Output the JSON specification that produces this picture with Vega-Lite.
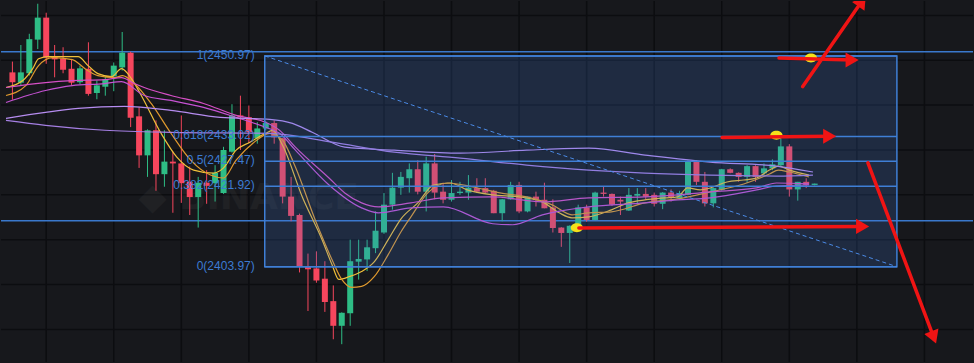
{
  "$schema": "https://vega.github.io/schema/vega-lite/v6.json",
  "width": 974,
  "height": 363,
  "autosize": {"type": "fit", "contains": "padding"},
  "padding": 0,
  "background": "#17181c",
  "config": {"view": {"stroke": null}},
  "datasets": {
    "gx": [{"t": 0}, {"t": 8}, {"t": 16}, {"t": 24}, {"t": 32}, {"t": 40}, {"t": 48}, {"t": 56}, {"t": 64}, {"t": 72}, {"t": 80}, {"t": 88}, {"t": 96}, {"t": 104}],
    "gy": [{"p": 2390}, {"p": 2400}, {"p": 2410}, {"p": 2420}, {"p": 2430}, {"p": 2440}, {"p": 2450}, {"p": 2460}],
    "hl": [{"p": 2451.9}, {"p": 2414.2}],
    "candles": [
      {"t": -4, "o": 2447.3, "h": 2449.7, "l": 2441.2, "c": 2445.1},
      {"t": -3, "o": 2445.0, "h": 2453.4, "l": 2444.4, "c": 2447.3},
      {"t": -2, "o": 2447.1, "h": 2455.9, "l": 2446.6, "c": 2454.7},
      {"t": -1, "o": 2454.6, "h": 2462.6, "l": 2452.5, "c": 2459.5},
      {"t": 0, "o": 2459.5, "h": 2460.6, "l": 2449.2, "c": 2450.6},
      {"t": 1, "o": 2450.8, "h": 2453.4, "l": 2446.2, "c": 2450.2},
      {"t": 2, "o": 2450.4, "h": 2452.9, "l": 2447.1, "c": 2447.9},
      {"t": 3, "o": 2448.1, "h": 2450.3, "l": 2444.5, "c": 2445.0},
      {"t": 4, "o": 2445.1, "h": 2448.8, "l": 2444.7, "c": 2448.2},
      {"t": 5, "o": 2448.1, "h": 2454.0, "l": 2442.1, "c": 2442.5},
      {"t": 6, "o": 2442.7, "h": 2445.5, "l": 2441.3, "c": 2444.4},
      {"t": 7, "o": 2444.1, "h": 2446.4, "l": 2442.1, "c": 2445.8},
      {"t": 8, "o": 2446.4, "h": 2449.5, "l": 2443.1, "c": 2448.8},
      {"t": 9, "o": 2448.4, "h": 2456.3, "l": 2447.7, "c": 2451.7},
      {"t": 10, "o": 2451.7, "h": 2451.9, "l": 2435.1, "c": 2437.2},
      {"t": 11, "o": 2437.5, "h": 2439.5, "l": 2426.0, "c": 2428.8},
      {"t": 12, "o": 2428.8, "h": 2434.6, "l": 2424.0, "c": 2434.4},
      {"t": 13, "o": 2434.4, "h": 2436.6, "l": 2420.9, "c": 2424.6},
      {"t": 14, "o": 2424.6, "h": 2434.4, "l": 2421.8, "c": 2427.4},
      {"t": 15, "o": 2427.4, "h": 2429.6, "l": 2416.0, "c": 2427.0},
      {"t": 16, "o": 2427.0, "h": 2437.7, "l": 2418.2, "c": 2422.6},
      {"t": 17, "o": 2422.9, "h": 2426.3, "l": 2415.5, "c": 2419.5},
      {"t": 18, "o": 2419.5, "h": 2424.0, "l": 2412.7, "c": 2422.7},
      {"t": 19, "o": 2422.7, "h": 2425.5, "l": 2418.0, "c": 2422.0},
      {"t": 20, "o": 2422.6, "h": 2426.6, "l": 2418.5, "c": 2424.9},
      {"t": 21, "o": 2420.4, "h": 2430.7, "l": 2420.2, "c": 2430.0},
      {"t": 22, "o": 2429.6, "h": 2440.2, "l": 2429.4, "c": 2437.7},
      {"t": 23, "o": 2437.7, "h": 2442.1, "l": 2430.0, "c": 2437.3},
      {"t": 24, "o": 2437.3, "h": 2439.9, "l": 2431.5, "c": 2434.0},
      {"t": 25, "o": 2432.6, "h": 2436.2, "l": 2431.4, "c": 2434.8},
      {"t": 26, "o": 2434.8, "h": 2436.4, "l": 2434.4, "c": 2436.0},
      {"t": 27, "o": 2436.0, "h": 2436.6, "l": 2431.4, "c": 2432.8},
      {"t": 28, "o": 2432.6, "h": 2432.7, "l": 2418.1, "c": 2419.6},
      {"t": 29, "o": 2419.6, "h": 2424.0, "l": 2414.1, "c": 2415.3},
      {"t": 30, "o": 2415.5, "h": 2415.8, "l": 2402.7, "c": 2404.1},
      {"t": 31, "o": 2404.0, "h": 2406.9, "l": 2394.1, "c": 2403.4},
      {"t": 32, "o": 2403.6, "h": 2407.4, "l": 2400.4, "c": 2400.9},
      {"t": 33, "o": 2401.3, "h": 2405.2, "l": 2393.9, "c": 2396.1},
      {"t": 34, "o": 2396.3, "h": 2399.8, "l": 2387.8, "c": 2390.8},
      {"t": 35, "o": 2390.8, "h": 2393.8, "l": 2386.7, "c": 2393.7},
      {"t": 36, "o": 2393.6, "h": 2410.0, "l": 2390.8, "c": 2405.2},
      {"t": 37, "o": 2405.1, "h": 2410.0, "l": 2401.1, "c": 2405.7},
      {"t": 38, "o": 2405.6, "h": 2410.0, "l": 2403.0, "c": 2408.3},
      {"t": 39, "o": 2408.1, "h": 2416.3, "l": 2407.0, "c": 2412.0},
      {"t": 40, "o": 2411.6, "h": 2420.4, "l": 2411.3, "c": 2417.8},
      {"t": 41, "o": 2417.8, "h": 2424.9, "l": 2416.7, "c": 2421.6},
      {"t": 42, "o": 2421.6, "h": 2425.1, "l": 2420.0, "c": 2424.0},
      {"t": 43, "o": 2423.7, "h": 2427.0, "l": 2420.5, "c": 2425.7},
      {"t": 44, "o": 2425.7, "h": 2427.7, "l": 2420.1, "c": 2420.7},
      {"t": 45, "o": 2420.7, "h": 2428.5, "l": 2416.3, "c": 2427.0},
      {"t": 46, "o": 2427.0, "h": 2429.1, "l": 2419.0, "c": 2420.5},
      {"t": 47, "o": 2420.7, "h": 2422.7, "l": 2418.1, "c": 2418.9},
      {"t": 48, "o": 2418.9, "h": 2423.3, "l": 2418.5, "c": 2420.4},
      {"t": 49, "o": 2420.4, "h": 2422.9, "l": 2420.0, "c": 2420.7},
      {"t": 50, "o": 2420.5, "h": 2424.4, "l": 2418.9, "c": 2421.6},
      {"t": 51, "o": 2421.5, "h": 2423.7, "l": 2420.4, "c": 2420.7},
      {"t": 52, "o": 2421.5, "h": 2423.7, "l": 2420.4, "c": 2420.5},
      {"t": 53, "o": 2420.9, "h": 2421.1, "l": 2415.9, "c": 2415.9},
      {"t": 54, "o": 2415.9, "h": 2419.1, "l": 2414.1, "c": 2419.0},
      {"t": 55, "o": 2419.0, "h": 2422.9, "l": 2418.9, "c": 2422.2},
      {"t": 56, "o": 2422.2, "h": 2422.9, "l": 2415.9, "c": 2416.3},
      {"t": 57, "o": 2416.3, "h": 2419.6, "l": 2416.1, "c": 2419.6},
      {"t": 58, "o": 2419.6, "h": 2420.7, "l": 2417.4, "c": 2418.9},
      {"t": 59, "o": 2418.9, "h": 2422.7, "l": 2417.0, "c": 2417.0},
      {"t": 60, "o": 2417.2, "h": 2419.0, "l": 2411.6, "c": 2412.6},
      {"t": 61, "o": 2412.7, "h": 2412.8, "l": 2408.4, "c": 2411.5},
      {"t": 62, "o": 2411.5, "h": 2413.2, "l": 2404.8, "c": 2413.1},
      {"t": 63, "o": 2412.2, "h": 2417.8, "l": 2412.0, "c": 2417.2},
      {"t": 64, "o": 2417.2, "h": 2417.8, "l": 2414.0, "c": 2414.4},
      {"t": 65, "o": 2414.4, "h": 2420.7, "l": 2414.3, "c": 2420.5},
      {"t": 66, "o": 2420.5, "h": 2421.8, "l": 2419.6, "c": 2420.2},
      {"t": 67, "o": 2420.2, "h": 2420.3, "l": 2417.5, "c": 2417.8},
      {"t": 68, "o": 2418.9, "h": 2419.6, "l": 2415.5, "c": 2418.5},
      {"t": 69, "o": 2416.5, "h": 2421.5, "l": 2416.4, "c": 2420.0},
      {"t": 70, "o": 2419.8, "h": 2421.5, "l": 2417.8, "c": 2420.2},
      {"t": 71, "o": 2420.2, "h": 2421.5, "l": 2418.9, "c": 2419.6},
      {"t": 72, "o": 2420.0, "h": 2420.5, "l": 2417.4, "c": 2418.0},
      {"t": 73, "o": 2418.0, "h": 2420.6, "l": 2416.8, "c": 2420.5},
      {"t": 74, "o": 2420.5, "h": 2421.2, "l": 2418.5, "c": 2419.5},
      {"t": 75, "o": 2419.2, "h": 2420.9, "l": 2418.9, "c": 2420.4},
      {"t": 76, "o": 2420.0, "h": 2427.7, "l": 2419.9, "c": 2427.4},
      {"t": 77, "o": 2427.4, "h": 2427.7, "l": 2422.2, "c": 2422.9},
      {"t": 78, "o": 2422.9, "h": 2425.1, "l": 2417.4, "c": 2418.1},
      {"t": 79, "o": 2418.1, "h": 2421.6, "l": 2417.2, "c": 2421.5},
      {"t": 80, "o": 2421.1, "h": 2425.8, "l": 2420.9, "c": 2425.7},
      {"t": 81, "o": 2425.7, "h": 2425.9, "l": 2424.8, "c": 2424.9},
      {"t": 82, "o": 2424.9, "h": 2425.0, "l": 2422.9, "c": 2424.0},
      {"t": 83, "o": 2424.0, "h": 2426.6, "l": 2422.7, "c": 2426.4},
      {"t": 84, "o": 2426.4, "h": 2426.6, "l": 2422.9, "c": 2424.0},
      {"t": 85, "o": 2424.8, "h": 2427.0, "l": 2424.4, "c": 2425.9},
      {"t": 86, "o": 2425.9, "h": 2427.9, "l": 2425.5, "c": 2426.8},
      {"t": 87, "o": 2426.6, "h": 2432.9, "l": 2426.3, "c": 2430.8},
      {"t": 88, "o": 2430.8, "h": 2431.3, "l": 2419.6, "c": 2421.2},
      {"t": 89, "o": 2421.2, "h": 2422.9, "l": 2418.7, "c": 2422.9},
      {"t": 90, "o": 2422.9, "h": 2423.7, "l": 2421.5, "c": 2422.2},
      {"t": 91, "o": 2422.2, "h": 2422.5, "l": 2422.1, "c": 2422.5}
    ],
    "ma": [
      {"s": "m1", "t": -4.76, "p": 2443.92}, {"s": "m1", "t": -2.77, "p": 2445.47}, {"s": "m1", "t": -1.6, "p": 2448.13}, {"s": "m1", "t": -0.9, "p": 2450.35}, {"s": "m1", "t": 0.27, "p": 2450.79}, {"s": "m1", "t": 3.78, "p": 2450.79}, {"s": "m1", "t": 4.96, "p": 2448.8}, {"s": "m1", "t": 6.12, "p": 2447.02}, {"s": "m1", "t": 7.75, "p": 2446.36}, {"s": "m1", "t": 8.92, "p": 2448.13}, {"s": "m1", "t": 10.09, "p": 2445.92}, {"s": "m1", "t": 11.26, "p": 2442.15}, {"s": "m1", "t": 13.6, "p": 2433.72}, {"s": "m1", "t": 15.47, "p": 2428.4}, {"s": "m1", "t": 17.46, "p": 2425.52}, {"s": "m1", "t": 19.8, "p": 2424.85}, {"s": "m1", "t": 20.97, "p": 2425.96}, {"s": "m1", "t": 22.49, "p": 2429.95}, {"s": "m1", "t": 24.13, "p": 2431.73}, {"s": "m1", "t": 25.99, "p": 2433.72}, {"s": "m1", "t": 26.81, "p": 2434.39}, {"s": "m1", "t": 27.99, "p": 2431.06}, {"s": "m1", "t": 30.33, "p": 2419.53}, {"s": "m1", "t": 32.67, "p": 2410.0}, {"s": "m1", "t": 33.84, "p": 2404.46}, {"s": "m1", "t": 34.65, "p": 2401.13}, {"s": "m1", "t": 35.94, "p": 2401.8}, {"s": "m1", "t": 37.35, "p": 2402.91}, {"s": "m1", "t": 38.87, "p": 2405.12}, {"s": "m1", "t": 40.5, "p": 2410.0}, {"s": "m1", "t": 42.02, "p": 2414.66}, {"s": "m1", "t": 44.01, "p": 2418.2}, {"s": "m1", "t": 45.88, "p": 2422.19}, {"s": "m1", "t": 47.87, "p": 2422.64}, {"s": "m1", "t": 49.86, "p": 2421.09}, {"s": "m1", "t": 52.9, "p": 2419.98}, {"s": "m1", "t": 56.06, "p": 2419.53}, {"s": "m1", "t": 58.75, "p": 2418.42}, {"s": "m1", "t": 60.74, "p": 2415.99}, {"s": "m1", "t": 62.26, "p": 2414.88}, {"s": "m1", "t": 64.25, "p": 2415.1}, {"s": "m1", "t": 66.94, "p": 2416.65}, {"s": "m1", "t": 68.92, "p": 2418.2}, {"s": "m1", "t": 70.91, "p": 2418.87}, {"s": "m1", "t": 73.25, "p": 2419.31}, {"s": "m1", "t": 74.77, "p": 2419.53}, {"s": "m1", "t": 75.94, "p": 2421.53}, {"s": "m1", "t": 77.46, "p": 2421.09}, {"s": "m1", "t": 78.63, "p": 2421.53}, {"s": "m1", "t": 80.62, "p": 2422.86}, {"s": "m1", "t": 82.61, "p": 2423.3}, {"s": "m1", "t": 84.13, "p": 2423.75}, {"s": "m1", "t": 85.65, "p": 2425.52}, {"s": "m1", "t": 86.7, "p": 2426.41}, {"s": "m1", "t": 87.99, "p": 2425.52}, {"s": "m1", "t": 90.33, "p": 2424.41},
      {"s": "m2", "t": -4.76, "p": 2442.15}, {"s": "m2", "t": -2.42, "p": 2444.36}, {"s": "m2", "t": -0.9, "p": 2448.8}, {"s": "m2", "t": 0.74, "p": 2450.57}, {"s": "m2", "t": 3.08, "p": 2450.13}, {"s": "m2", "t": 4.6, "p": 2448.13}, {"s": "m2", "t": 6.12, "p": 2446.58}, {"s": "m2", "t": 8.11, "p": 2446.14}, {"s": "m2", "t": 9.04, "p": 2446.58}, {"s": "m2", "t": 10.44, "p": 2444.81}, {"s": "m2", "t": 12.43, "p": 2440.37}, {"s": "m2", "t": 14.77, "p": 2433.72}, {"s": "m2", "t": 17.11, "p": 2427.74}, {"s": "m2", "t": 19.45, "p": 2424.41}, {"s": "m2", "t": 20.97, "p": 2423.75}, {"s": "m2", "t": 22.49, "p": 2427.74}, {"s": "m2", "t": 24.48, "p": 2431.5}, {"s": "m2", "t": 26.47, "p": 2433.72}, {"s": "m2", "t": 27.99, "p": 2432.17}, {"s": "m2", "t": 29.51, "p": 2426.18}, {"s": "m2", "t": 31.85, "p": 2414.43}, {"s": "m2", "t": 33.84, "p": 2405.57}, {"s": "m2", "t": 35.0, "p": 2401.13}, {"s": "m2", "t": 36.18, "p": 2399.36}, {"s": "m2", "t": 37.35, "p": 2399.58}, {"s": "m2", "t": 38.87, "p": 2401.8}, {"s": "m2", "t": 40.5, "p": 2406.67}, {"s": "m2", "t": 42.02, "p": 2411.77}, {"s": "m2", "t": 43.19, "p": 2415.1}, {"s": "m2", "t": 45.18, "p": 2420.42}, {"s": "m2", "t": 47.52, "p": 2422.64}, {"s": "m2", "t": 50.56, "p": 2421.75}, {"s": "m2", "t": 53.72, "p": 2420.42}, {"s": "m2", "t": 56.88, "p": 2419.53}, {"s": "m2", "t": 59.92, "p": 2417.76}, {"s": "m2", "t": 62.26, "p": 2415.54}, {"s": "m2", "t": 64.25, "p": 2415.99}, {"s": "m2", "t": 66.94, "p": 2416.21}, {"s": "m2", "t": 70.91, "p": 2418.2}, {"s": "m2", "t": 74.77, "p": 2419.09}, {"s": "m2", "t": 78.63, "p": 2420.64}, {"s": "m2", "t": 82.61, "p": 2422.42}, {"s": "m2", "t": 85.65, "p": 2424.63}, {"s": "m2", "t": 86.7, "p": 2425.52}, {"s": "m2", "t": 87.99, "p": 2425.08}, {"s": "m2", "t": 90.33, "p": 2423.97},
      {"s": "m3", "t": -4.76, "p": 2443.92}, {"s": "m3", "t": -0.08, "p": 2445.03}, {"s": "m3", "t": 3.08, "p": 2445.47}, {"s": "m3", "t": 6.94, "p": 2445.69}, {"s": "m3", "t": 8.92, "p": 2446.14}, {"s": "m3", "t": 10.44, "p": 2444.81}, {"s": "m3", "t": 11.61, "p": 2443.92}, {"s": "m3", "t": 14.77, "p": 2442.15}, {"s": "m3", "t": 18.63, "p": 2440.37}, {"s": "m3", "t": 22.49, "p": 2437.71}, {"s": "m3", "t": 25.99, "p": 2436.16}, {"s": "m3", "t": 27.63, "p": 2434.39}, {"s": "m3", "t": 29.51, "p": 2430.62}, {"s": "m3", "t": 33.49, "p": 2423.75}, {"s": "m3", "t": 35.36, "p": 2420.42}, {"s": "m3", "t": 37.35, "p": 2418.2}, {"s": "m3", "t": 39.33, "p": 2417.32}, {"s": "m3", "t": 43.19, "p": 2418.2}, {"s": "m3", "t": 47.05, "p": 2419.31}, {"s": "m3", "t": 52.9, "p": 2419.53}, {"s": "m3", "t": 58.75, "p": 2418.42}, {"s": "m3", "t": 64.25, "p": 2419.31}, {"s": "m3", "t": 70.91, "p": 2419.53}, {"s": "m3", "t": 74.77, "p": 2419.98}, {"s": "m3", "t": 78.63, "p": 2420.64}, {"s": "m3", "t": 84.13, "p": 2421.53}, {"s": "m3", "t": 86.47, "p": 2422.64}, {"s": "m3", "t": 90.33, "p": 2422.42},
      {"s": "m4", "t": -4.76, "p": 2440.59}, {"s": "m4", "t": -0.08, "p": 2443.26}, {"s": "m4", "t": 3.08, "p": 2444.36}, {"s": "m4", "t": 6.94, "p": 2444.81}, {"s": "m4", "t": 8.92, "p": 2445.25}, {"s": "m4", "t": 11.61, "p": 2442.15}, {"s": "m4", "t": 14.77, "p": 2441.04}, {"s": "m4", "t": 18.63, "p": 2439.49}, {"s": "m4", "t": 22.49, "p": 2437.27}, {"s": "m4", "t": 25.99, "p": 2435.05}, {"s": "m4", "t": 27.63, "p": 2433.72}, {"s": "m4", "t": 29.51, "p": 2429.95}, {"s": "m4", "t": 33.49, "p": 2422.19}, {"s": "m4", "t": 37.35, "p": 2417.09}, {"s": "m4", "t": 39.33, "p": 2415.99}, {"s": "m4", "t": 43.19, "p": 2417.09}, {"s": "m4", "t": 47.05, "p": 2417.32}, {"s": "m4", "t": 52.9, "p": 2413.55}, {"s": "m4", "t": 55.24, "p": 2413.33}, {"s": "m4", "t": 58.75, "p": 2415.54}, {"s": "m4", "t": 64.25, "p": 2417.32}, {"s": "m4", "t": 70.91, "p": 2418.2}, {"s": "m4", "t": 74.77, "p": 2418.87}, {"s": "m4", "t": 78.63, "p": 2419.31}, {"s": "m4", "t": 84.13, "p": 2421.09}, {"s": "m4", "t": 86.47, "p": 2421.97}, {"s": "m4", "t": 90.33, "p": 2422.19},
      {"s": "m5", "t": -4.76, "p": 2437.05}, {"s": "m5", "t": -0.08, "p": 2438.38}, {"s": "m5", "t": 3.78, "p": 2439.26}, {"s": "m5", "t": 9.27, "p": 2439.71}, {"s": "m5", "t": 14.77, "p": 2438.82}, {"s": "m5", "t": 20.62, "p": 2437.27}, {"s": "m5", "t": 26.47, "p": 2436.83}, {"s": "m5", "t": 29.16, "p": 2435.94}, {"s": "m5", "t": 31.5, "p": 2433.94}, {"s": "m5", "t": 35.36, "p": 2430.62}, {"s": "m5", "t": 41.2, "p": 2429.95}, {"s": "m5", "t": 49.04, "p": 2429.29}, {"s": "m5", "t": 56.88, "p": 2429.95}, {"s": "m5", "t": 64.25, "p": 2430.4}, {"s": "m5", "t": 70.91, "p": 2428.84}, {"s": "m5", "t": 78.63, "p": 2427.29}, {"s": "m5", "t": 86.47, "p": 2426.41}, {"s": "m5", "t": 90.8, "p": 2425.08},
      {"s": "m6", "t": -4.76, "p": 2436.6}, {"s": "m6", "t": -0.08, "p": 2435.5}, {"s": "m6", "t": 6.94, "p": 2434.39}, {"s": "m6", "t": 14.77, "p": 2433.94}, {"s": "m6", "t": 26.47, "p": 2433.72}, {"s": "m6", "t": 33.84, "p": 2431.73}, {"s": "m6", "t": 41.2, "p": 2429.51}, {"s": "m6", "t": 49.04, "p": 2428.18}, {"s": "m6", "t": 56.88, "p": 2426.63}, {"s": "m6", "t": 64.25, "p": 2425.52}, {"s": "m6", "t": 70.91, "p": 2424.85}, {"s": "m6", "t": 78.63, "p": 2424.41}, {"s": "m6", "t": 86.47, "p": 2424.19}, {"s": "m6", "t": 90.8, "p": 2424.41}
    ],
    "box": [{"t1": 25.88, "t2": 100.74, "p1": 2450.97, "p2": 2403.97}],
    "fib": [
      {"t1": 25.88, "t2": 100.74, "p": 2450.97, "label": "1(2450.97)"},
      {"t1": 25.88, "t2": 100.74, "p": 2433.02, "label": "0.618(2433.02)"},
      {"t1": 25.88, "t2": 100.74, "p": 2427.47, "label": "0.5(2427.47)"},
      {"t1": 25.88, "t2": 100.74, "p": 2421.92, "label": "0.382(2421.92)"},
      {"t1": 25.88, "t2": 100.74, "p": 2403.97, "label": "0(2403.97)"}
    ],
    "arrows": [
      {"id": "a1", "kind": "h", "t1": 86.78, "p1": 2450.5, "t2": 95.44, "p2": 2450.06},
      {"id": "a2", "kind": "up", "t1": 89.59, "p1": 2444.14, "t2": 96.61, "p2": 2463.21},
      {"id": "a3", "kind": "h", "t1": 80.04, "p1": 2432.77, "t2": 92.78, "p2": 2433.06},
      {"id": "a4", "kind": "h", "t1": 63.08, "p1": 2412.59, "t2": 96.68, "p2": 2412.95},
      {"id": "a5", "kind": "down", "t1": 97.31, "p1": 2427.14, "t2": 105.1, "p2": 2388.21}
    ],
    "dots": [{"t": 90.56, "p": 2450.5}, {"t": 86.47, "p": 2433.28}, {"t": 62.84, "p": 2412.66}],
    "wm": [{"t": 24.0, "p": 2419.3, "label": "◆ BINANCE"}]
  },
  "layer": [
    {
      "data": {"name": "gx"},
      "mark": {"type": "rule", "stroke": "#0c0d10", "strokeWidth": 1.5},
      "encoding": {
        "x": {"field": "t", "type": "quantitative", "scale": {"domain": [-4.76, 109.16], "nice": false, "zero": false}, "axis": null}
      }
    },
    {
      "data": {"name": "gy"},
      "mark": {"type": "rule", "stroke": "#0c0d10", "strokeWidth": 1.5},
      "encoding": {
        "y": {"field": "p", "type": "quantitative", "scale": {"domain": [2382.73, 2463.21], "nice": false, "zero": false}, "axis": null}
      }
    },
    {
      "data": {"name": "wm"},
      "mark": {"type": "text", "align": "center", "baseline": "middle", "font": "DejaVu Sans", "fontWeight": "bold", "fontSize": 36, "fill": "#ffffff", "opacity": 0.035},
      "encoding": {
        "x": {"field": "t", "type": "quantitative", "axis": null},
        "y": {"field": "p", "type": "quantitative", "axis": null},
        "text": {"field": "label"}
      }
    },
    {
      "data": {"name": "hl"},
      "mark": {"type": "rule", "stroke": "#3a78cc", "strokeWidth": 1.5},
      "encoding": {
        "y": {"field": "p", "type": "quantitative", "axis": null}
      }
    },
    {
      "data": {"name": "candles"},
      "mark": {"type": "rule", "strokeWidth": 1, "clip": true},
      "encoding": {
        "x": {"field": "t", "type": "quantitative", "scale": {"domain": [-4.76, 109.16], "nice": false, "zero": false}, "axis": null},
        "y": {"field": "l", "type": "quantitative", "scale": {"domain": [2382.73, 2463.21], "nice": false, "zero": false}, "axis": null},
        "y2": {"field": "h"},
        "color": {"condition": {"test": "datum.c >= datum.o", "value": "#2ebd85"}, "value": "#f6465d"}
      }
    },
    {
      "data": {"name": "candles"},
      "mark": {"type": "bar", "size": 6, "clip": true},
      "encoding": {
        "x": {"field": "t", "type": "quantitative", "axis": null},
        "y": {"field": "o", "type": "quantitative", "axis": null},
        "y2": {"field": "c"},
        "color": {"condition": {"test": "datum.c >= datum.o", "value": "#2ebd85"}, "value": "#f6465d"}
      }
    },
    {
      "data": {"name": "ma"},
      "mark": {"type": "line", "strokeWidth": 1.2, "clip": true, "interpolate": "monotone"},
      "encoding": {
        "x": {"field": "t", "type": "quantitative", "axis": null},
        "y": {"field": "p", "type": "quantitative", "axis": null},
        "color": {"field": "s", "type": "nominal", "legend": null, "scale": {"domain": ["m1", "m2", "m3", "m4", "m5", "m6"], "range": ["#f0c03a", "#e09a2e", "#d64fc6", "#c552d3", "#b68cf0", "#a57fe3"]}}
      }
    },
    {
      "data": {"name": "box"},
      "mark": {"type": "rect", "fill": "#3f7ad8", "fillOpacity": 0.2},
      "encoding": {
        "x": {"field": "t1", "type": "quantitative", "axis": null},
        "x2": {"field": "t2"},
        "y": {"field": "p1", "type": "quantitative", "axis": null},
        "y2": {"field": "p2"}
      }
    },
    {
      "data": {"name": "fib"},
      "mark": {"type": "rule", "stroke": "#3f7fd6", "strokeWidth": 1.5},
      "encoding": {
        "x": {"field": "t1", "type": "quantitative", "axis": null},
        "x2": {"field": "t2"},
        "y": {"field": "p", "type": "quantitative", "axis": null}
      }
    },
    {
      "data": {"name": "box"},
      "mark": {"type": "rect", "fillOpacity": 0, "stroke": "#3f7fd6", "strokeWidth": 1.5},
      "encoding": {
        "x": {"field": "t1", "type": "quantitative", "axis": null},
        "x2": {"field": "t2"},
        "y": {"field": "p1", "type": "quantitative", "axis": null},
        "y2": {"field": "p2"}
      }
    },
    {
      "data": {"name": "box"},
      "mark": {"type": "rule", "stroke": "#4a8ae6", "strokeWidth": 1, "strokeDash": [4, 3]},
      "encoding": {
        "x": {"field": "t1", "type": "quantitative", "axis": null},
        "x2": {"field": "t2"},
        "y": {"field": "p1", "type": "quantitative", "axis": null},
        "y2": {"field": "p2"}
      }
    },
    {
      "data": {"name": "fib"},
      "mark": {"type": "text", "align": "right", "baseline": "middle", "dx": -10, "dy": -1, "font": "Liberation Sans", "fontSize": 12, "fill": "#3c7bd2"},
      "encoding": {
        "x": {"field": "t1", "type": "quantitative", "axis": null},
        "y": {"field": "p", "type": "quantitative", "axis": null},
        "text": {"field": "label"}
      }
    },
    {
      "data": {"name": "dots"},
      "mark": {"type": "point", "shape": "M -1 0 A 1 0.72 0 1 0 1 0 A 1 0.72 0 1 0 -1 0 Z", "filled": true, "size": 150, "fill": "#f5e11a", "opacity": 1, "strokeWidth": 0},
      "encoding": {
        "x": {"field": "t", "type": "quantitative", "axis": null},
        "y": {"field": "p", "type": "quantitative", "axis": null}
      }
    },
    {
      "data": {"name": "arrows"},
      "mark": {"type": "rule", "stroke": "#f01414", "strokeWidth": 3.5, "strokeCap": "round", "clip": true},
      "encoding": {
        "x": {"field": "t1", "type": "quantitative", "axis": null},
        "x2": {"field": "t2"},
        "y": {"field": "p1", "type": "quantitative", "axis": null},
        "y2": {"field": "p2"}
      }
    },
    {
      "data": {"name": "arrows"},
      "transform": [{"filter": "datum.kind === 'h'"}],
      "mark": {"type": "point", "shape": "triangle-right", "filled": true, "size": 230, "fill": "#f01414", "opacity": 1, "strokeWidth": 0},
      "encoding": {
        "x": {"field": "t2", "type": "quantitative", "axis": null},
        "y": {"field": "p2", "type": "quantitative", "axis": null}
      }
    },
    {
      "data": {"name": "arrows"},
      "transform": [{"filter": "datum.kind === 'up'"}],
      "mark": {"type": "point", "shape": "triangle-up", "angle": 35, "filled": true, "size": 230, "fill": "#f01414", "opacity": 1, "strokeWidth": 0, "clip": true},
      "encoding": {
        "x": {"field": "t2", "type": "quantitative", "axis": null},
        "y": {"field": "p2", "type": "quantitative", "axis": null}
      }
    },
    {
      "data": {"name": "arrows"},
      "transform": [{"filter": "datum.kind === 'down'"}],
      "mark": {"type": "point", "shape": "triangle-down", "angle": 339, "filled": true, "size": 230, "fill": "#f01414", "opacity": 1, "strokeWidth": 0},
      "encoding": {
        "x": {"field": "t2", "type": "quantitative", "axis": null},
        "y": {"field": "p2", "type": "quantitative", "axis": null}
      }
    }
  ]
}
